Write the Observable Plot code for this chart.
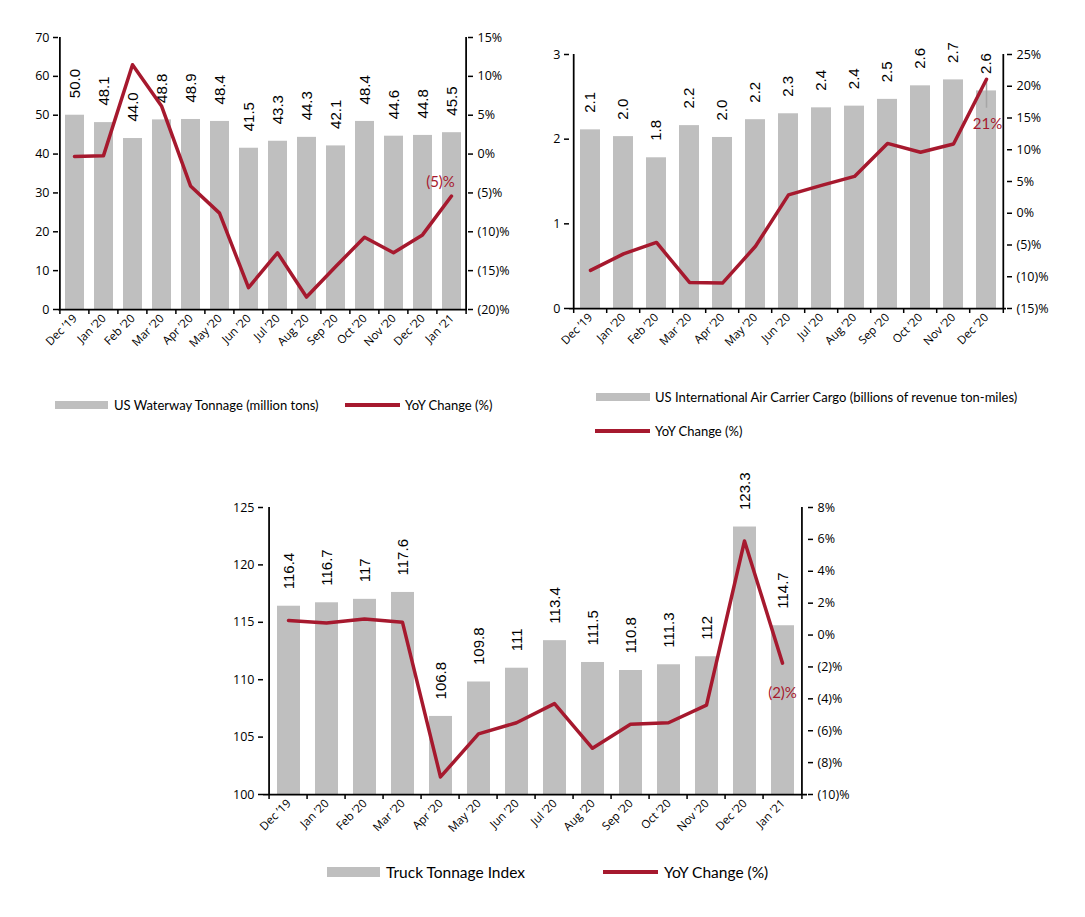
<!DOCTYPE html>
<html><head><meta charset="utf-8">
<script src="https://cdn.jsdelivr.net/npm/d3@7"></script>
<script src="https://cdn.jsdelivr.net/npm/@observablehq/plot@0.6"></script>
<style>
body{margin:0;background:#fff;width:1085px;height:917px;position:relative;overflow:hidden;font-family:Lato,sans-serif}
.chart{position:absolute}
.layer{position:absolute;left:0;top:0}
.lg{position:absolute;font-family:Lato,sans-serif;color:#000;white-space:nowrap;line-height:16px}
.sw{position:absolute}
</style>
</head><body>
<div id="c1" class="chart" style="left:0;top:0;width:520px;height:370px"></div>
<div id="c2" class="chart" style="left:520px;top:0;width:565px;height:370px"></div>
<div id="c3" class="chart" style="left:200px;top:470px;width:680px;height:390px"></div>

<div class="sw" style="left:55px;top:401px;width:53px;height:8px;background:#BFBFBF"></div>
<div class="lg" style="left:114px;top:397px;font-size:13px">US Waterway Tonnage (million tons)</div>
<div class="sw" style="left:345px;top:403px;width:55px;height:4px;background:#A6192E"></div>
<div class="lg" style="left:405px;top:397px;font-size:13px">YoY Change (%)</div>

<div class="sw" style="left:596px;top:393px;width:54px;height:8px;background:#BFBFBF"></div>
<div class="lg" style="left:655px;top:389px;font-size:13px">US International Air Carrier Cargo (billions of revenue ton-miles)</div>
<div class="sw" style="left:595px;top:429px;width:55px;height:4px;background:#A6192E"></div>
<div class="lg" style="left:655px;top:423px;font-size:13px">YoY Change (%)</div>

<div class="sw" style="left:327px;top:867px;width:53px;height:10px;background:#BFBFBF"></div>
<div class="lg" style="left:386px;top:863px;font-size:15.5px;line-height:18px">Truck Tonnage Index</div>
<div class="sw" style="left:603px;top:870px;width:55px;height:4px;background:#A6192E"></div>
<div class="lg" style="left:664px;top:863px;font-size:15.5px;line-height:18px">YoY Change (%)</div>

<script>
// ---------- data ----------
const months1 = ["Dec ’19","Jan ’20","Feb ’20","Mar ’20","Apr ’20","May ’20","Jun ’20","Jul ’20","Aug ’20","Sep ’20","Oct ’20","Nov ’20","Dec ’20","Jan ’21"];
const waterwayTons = [50.0,48.1,44.0,48.8,48.9,48.4,41.5,43.3,44.3,42.1,48.4,44.6,44.8,45.5];
const waterwayYoY = [-0.3,-0.2,11.5,6.2,-4.1,-7.6,-17.2,-12.7,-18.4,-14.5,-10.7,-12.7,-10.4,-5.4];

const months2 = ["Dec ’19","Jan ’20","Feb ’20","Mar ’20","Apr ’20","May ’20","Jun ’20","Jul ’20","Aug ’20","Sep ’20","Oct ’20","Nov ’20","Dec ’20"];
const airCargo = [2.11,2.03,1.78,2.16,2.02,2.23,2.30,2.37,2.39,2.47,2.63,2.70,2.57];
const airYoY = [-9.0,-6.4,-4.6,-10.9,-11.0,-5.2,2.9,4.4,5.8,11.0,9.6,10.9,21.1];

const months3 = months1;
const truckIndex = [116.4,116.7,117,117.6,106.8,109.8,111,113.4,111.5,110.8,111.3,112,123.3,114.7];
const truckYoY = [0.92,0.75,1.0,0.8,-8.9,-6.2,-5.5,-4.3,-7.1,-5.6,-5.5,-4.4,5.9,-1.76];

const ticksL1 = [0,10,20,30,40,50,60,70];
const ticksR1 = [-20,-15,-10,-5,0,5,10,15];
const ticksL2 = [0,1,2,3];
const ticksR2 = [-15,-10,-5,0,5,10,15,20,25];
const ticksL3 = [100,105,110,115,120,125];
const ticksR3 = [-10,-8,-6,-4,-2,0,2,4,6,8];

// ---------- drawing ----------
const GRAY = "#BFBFBF", RED = "#A6192E";
const pctFmt = v => v < 0 ? `(${Math.abs(v)})%` : `${v}%`;
const AXIS_FONT = "Open Sans, sans-serif";

function dualChart(o) {
  const el = document.getElementById(o.el);
  const [mt, mr, mb, ml] = o.margin;
  const n = o.months.length;
  const step = (o.width - ml - mr) / n;
  const barData = o.months.map((m, i) => ({m, v: o.bars[i], label: o.fmt(o.bars[i])}));
  const lineData = o.months.map((m, i) => ({m, v: o.yoy[i]}));
  const common = {
    width: o.width, height: o.height,
    marginTop: mt, marginRight: mr, marginBottom: mb, marginLeft: ml,
    style: {background: "transparent", overflow: "visible", fontFamily: AXIS_FONT, fontSize: "12.5px", color: "#000"}
  };
  const yMin = o.yDomain[0], rMin = o.rDomain[0];
  const base = Plot.plot({
    ...common,
    x: {type: "band", domain: o.months, paddingInner: o.pad, paddingOuter: o.pad / 2, align: 0.5, label: null},
    y: {domain: o.yDomain, label: null},
    marks: [
      Plot.barY(barData, {x: "m", y1: yMin, y2: "v", fill: GRAY}),
      Plot.text(barData, {x: "m", y: "v", text: "label", rotate: -90, textAnchor: "start", dy: -17,
        fontSize: 15, fontFamily: "Liberation Sans, Arial, sans-serif", fill: "#000"}),
      Plot.axisY({anchor: "left", ticks: o.yTicks, tickFormat: d => String(d), tickSize: 5, tickPadding: 4, label: null, fontSize: 12.5, strokeWidth: 1.5}),
      Plot.axisX({tickSize: 0, tickRotate: -45, tickPadding: 7, label: null, fontSize: 11.5})
    ]
  });
  const over = Plot.plot({
    ...common,
    x: {type: "point", domain: o.months, padding: 0.5, align: 0.5, axis: null},
    y: {domain: o.rDomain, label: null},
    marks: [
      Plot.ruleY([rMin], {stroke: "#000", strokeWidth: 1.75}),
      Plot.ruleX([o.months[0]], {x: d => d, dx: -step / 2, stroke: "#000", strokeWidth: 1.75}),
      Plot.ruleX([o.months[n - 1]], {x: d => d, dx: step / 2, stroke: "#000", strokeWidth: 1.75}),
      Plot.ruleX(o.months, {x: d => d, dx: -step / 2, y1: rMin, y2: rMin, insetBottom: -5, stroke: "#000", strokeWidth: 1.5}),
      Plot.ruleX([o.months[n - 1]], {x: d => d, dx: step / 2, y1: rMin, y2: rMin, insetBottom: -5, stroke: "#000", strokeWidth: 1.5}),
      Plot.axisY({anchor: "right", ticks: o.rTicks, tickFormat: pctFmt, tickSize: 5, tickPadding: 5, label: null, fontSize: 12.5, strokeWidth: 1.5}),
      ...(o.leader ? [Plot.ruleX([lineData[n - 1]], {x: "m", y1: "v", y2: "v", insetTop: 1, insetBottom: -29, stroke: "#A6A6A6", strokeWidth: 1.5})] : []),
      Plot.line(lineData, {x: "m", y: "v", stroke: RED, strokeWidth: 3.5, strokeLinejoin: "round", strokeLinecap: "round"}),
      Plot.text([lineData[n - 1]], {x: "m", y: "v", text: d => pctFmt(Math.round(d.v)), fill: RED,
        dx: o.annot[0], dy: o.annot[1], fontSize: 15, fontFamily: "Lato, sans-serif"})
    ]
  });
  base.classList.add("layer");
  over.classList.add("layer");
  el.append(base, over);
}

dualChart({el: "c1", width: 520, height: 370, margin: [37, 53, 61, 58], months: months1,
  bars: waterwayTons, yoy: waterwayYoY, fmt: v => v.toFixed(1), pad: 0.35,
  yDomain: [0, 70], yTicks: ticksL1, rDomain: [-20, 15], rTicks: ticksR1, annot: [-11, -13.5]});

dualChart({el: "c2", width: 565, height: 370, margin: [54, 79, 62, 49], months: months2,
  bars: airCargo, yoy: airYoY, fmt: v => v.toFixed(1), pad: 0.40,
  yDomain: [0, 3], yTicks: ticksL2, rDomain: [-15, 25], rTicks: ticksR2, annot: [1, 45], leader: true});

dualChart({el: "c3", width: 680, height: 390, margin: [37, 73, 66, 63], months: months3,
  bars: truckIndex, yoy: truckYoY, fmt: v => String(v), pad: 0.40,
  yDomain: [100, 125], yTicks: ticksL3, rDomain: [-10, 8], rTicks: ticksR3, annot: [0, 30]});
</script>
</body></html>
